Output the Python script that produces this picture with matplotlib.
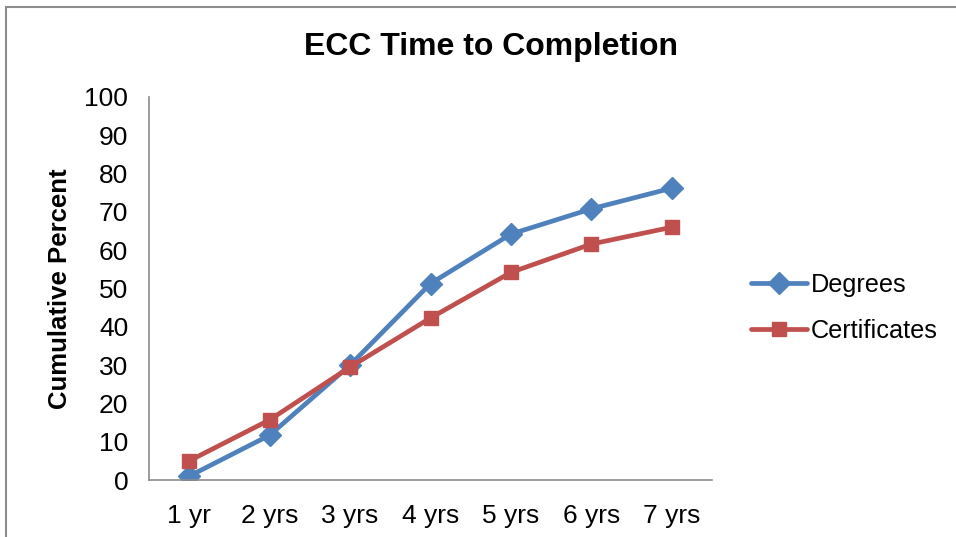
import matplotlib
matplotlib.use("Agg")
import matplotlib.pyplot as plt
from matplotlib.patches import Rectangle

categories = ["1 yr", "2 yrs", "3 yrs", "4 yrs", "5 yrs", "6 yrs", "7 yrs"]
degrees = [1.0, 11.7, 30.0, 51.3, 64.2, 70.8, 76.2]
certificates = [5.0, 15.7, 29.5, 42.3, 54.2, 61.6, 66.0]
yticks = list(range(0, 101, 10))

plt.rcParams['font.family'] = ['Liberation Sans', 'DejaVu Sans']

fig = plt.figure(figsize=(9.56, 5.37), dpi=100)
fig.patches.append(Rectangle((6/956, -0.05), 1.2, 1 - 7/537 + 0.05, transform=fig.transFigure,
                             fill=False, edgecolor='#8c8c8c', linewidth=1.5))

ax = fig.add_axes([149/956, 57/537, 563/956, 383/537])
x = list(range(len(categories)))
ax.plot(x, degrees, color='#4F81BD', linewidth=3.4, marker='D', markersize=11,
        label='Degrees', solid_capstyle='round')
ax.plot(x, certificates, color='#C0504D', linewidth=3.4, marker='s', markersize=10.5,
        label='Certificates', solid_capstyle='round')

ax.set_xlim(-0.5, len(categories) - 0.5)
ax.set_ylim(0, 100)
ax.set_yticks(yticks)
ax.set_xticks(x)
ax.set_xticklabels(categories)
ax.tick_params(axis='both', length=0, labelsize=19)
ax.tick_params(axis='x', pad=17)
ax.tick_params(axis='y', pad=15)
for s in ['top', 'right']:
    ax.spines[s].set_visible(False)
for s in ['left', 'bottom']:
    ax.spines[s].set_color('#8c8c8c')
    ax.spines[s].set_linewidth(1.2)

ax.set_ylabel('Cumulative Percent', fontsize=18.5, fontweight='bold', labelpad=9)
fig.text(491/956, 1 - 47/537, 'ECC Time to Completion', fontsize=23, fontweight='bold',
         ha='center', va='center')

leg = ax.legend(loc='center left', bbox_to_anchor=(592/563, (480 - 308) / 383), frameon=False,
                fontsize=18.2, handlelength=2.2, handletextpad=0.15, labelspacing=0.85,
                borderaxespad=0)

fig.savefig('out.png', dpi=100)
